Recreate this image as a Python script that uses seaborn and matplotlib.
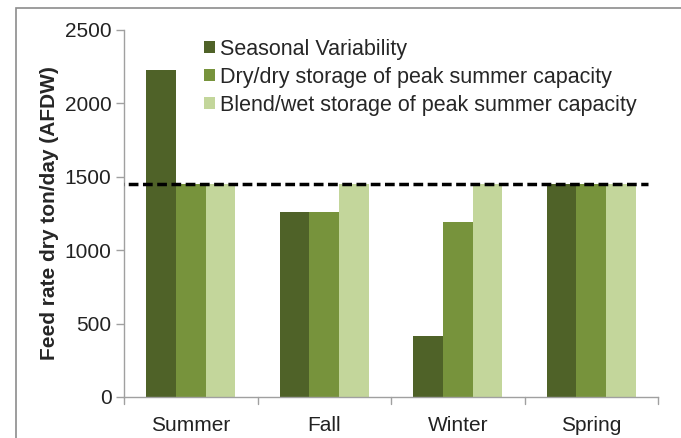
import pandas as pd
import numpy as np
import matplotlib.pyplot as plt
import seaborn as sns
from matplotlib.patches import Rectangle, Patch

seasons = ["Summer", "Fall", "Winter", "Spring"]
series = ["Seasonal Variability",
          "Dry/dry storage of peak summer capacity",
          "Blend/wet storage of peak summer capacity"]
seasonal = [2230, 1262, 415, 1453]
dry_dry = [1453, 1262, 1192, 1453]
blend_wet = [1453, 1453, 1453, 1453]
peak_capacity = 1453
colors = ["#4F6228", "#77933C", "#C3D69B"]

df = pd.DataFrame({
    "season": seasons * 3,
    "scenario": [s for s in series for _ in seasons],
    "feed": seasonal + dry_dry + blend_wet,
})

sns.set_style("white")
plt.rcParams['font.family'] = ['Liberation Sans', 'DejaVu Sans']

fig = plt.figure(figsize=(6.81, 4.38), dpi=100)
ax = fig.add_axes([124 / 681, 1 - 397 / 438, 534 / 681, 367 / 438])

sns.barplot(data=df, x="season", y="feed", hue="scenario", palette=colors,
            width=0.67, gap=0, linewidth=0, saturation=1, ax=ax)

ax.plot([-0.575, 3.425], [peak_capacity, peak_capacity], color="black",
        linestyle=(0, (2.8, 1.3)), linewidth=2.5, zorder=5)

ax.set_xlim(-0.5, 3.5)
ax.set_ylim(0, 2500)
ax.set_yticks(np.arange(0, 2501, 500))
ax.set_xlabel("")
ax.set_ylabel("Feed rate dry ton/day (AFDW)", fontsize=15, fontweight="bold", labelpad=4)
ax.tick_params(axis="both", labelsize=15, colors="#222222")
ax.tick_params(axis="y", left=True, length=6, width=1, color="#A0A0A0", pad=3)
ax.tick_params(axis="x", bottom=False, pad=10)
# category boundary ticks on the x axis
for xb in np.arange(-0.5, 3.6, 1.0):
    ax.plot([xb, xb], [0, -0.02], transform=ax.get_xaxis_transform(),
            color="#A0A0A0", linewidth=1, clip_on=False)

for side in ["top", "right"]:
    ax.spines[side].set_visible(False)
for side in ["left", "bottom"]:
    ax.spines[side].set_color("#A0A0A0")
    ax.spines[side].set_linewidth(1)

handles = [Patch(facecolor=c, edgecolor="none") for c in colors]
ax.legend(handles, series, loc="upper left", bbox_to_anchor=(0.133, 1.0),
          frameon=False, fontsize=15.5, handlelength=0.52, handleheight=0.52,
          handletextpad=0.25, labelspacing=0.33, borderaxespad=0)

# outer border of the chart area
fig.patches.append(Rectangle((16 / 681, -0.1), 1.2, 1 - 8 / 438 + 0.1,
                             transform=fig.transFigure, fill=False,
                             edgecolor="#8C8C8C", linewidth=1.2))

fig.savefig("out.png", dpi=100)
